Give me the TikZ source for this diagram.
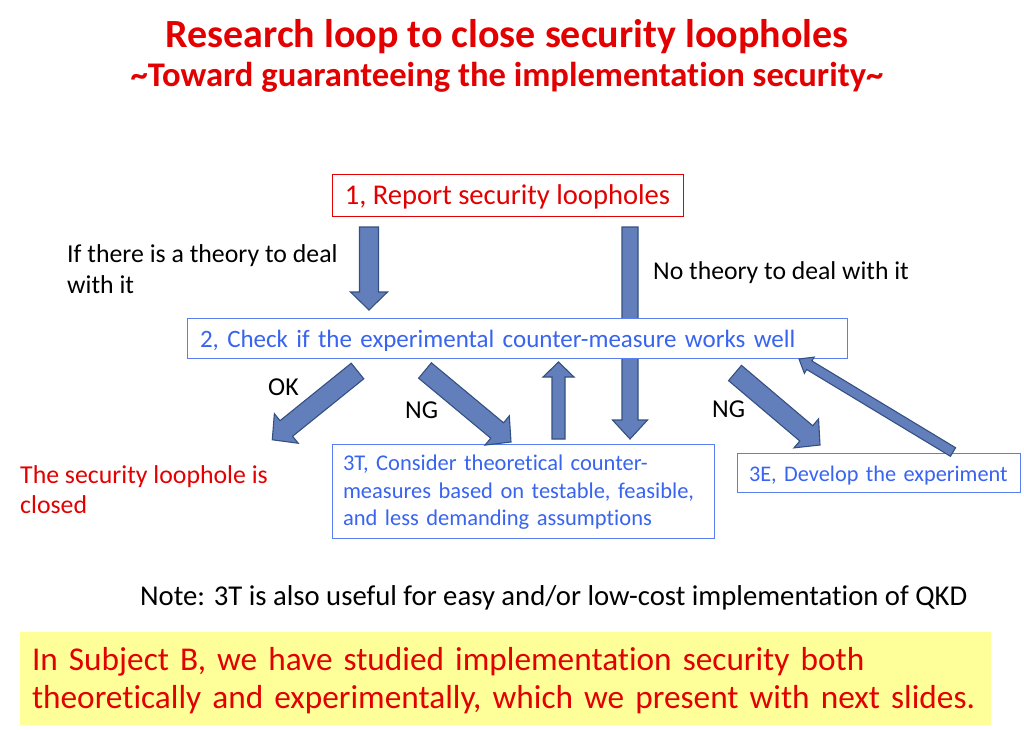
\documentclass[tikz,border=0pt]{standalone}
\usepackage{fontspec}
\setmainfont{Carlito}[Ligatures=NoCommon]
\usetikzlibrary{calc}
\definecolor{tred}{RGB}{226,0,0}
\definecolor{tblue}{RGB}{56,100,240}
\definecolor{bblue}{RGB}{90,125,240}
\definecolor{afill}{RGB}{98,127,187}
\definecolor{aedge}{RGB}{52,80,128}
\definecolor{yfill}{RGB}{255,255,153}
\tikzset{
  barrow/.style={fill=afill, draw=aedge, line width=1.1pt, line join=miter},
  redbox/.style={draw=tred, line width=0.9pt, fill=white, inner sep=0pt},
  bluebox/.style={draw=bblue, line width=0.9pt, fill=white, inner sep=0pt},
  lbl/.style={inner sep=0pt, anchor=base west}
}
\newcommand\blockarrow[5]{%
  \pgfpointdiff{\pgfpointanchor{#1}{center}}{\pgfpointanchor{#2}{center}}%
  \pgfgetlastxy\bax\bay
  \pgfmathsetmacro\balen{veclen(\bax,\bay)}%
  \pgfmathsetmacro\baang{atan2(\bay,\bax)}%
  \begin{scope}[shift={(#1)}, rotate=\baang, x=1pt, y=1pt]
    \draw[barrow] (0,#3) -- ({\balen-#5},#3) -- ({\balen-#5},#4) -- (\balen,0)
      -- ({\balen-#5},-#4) -- ({\balen-#5},-#3) -- (0,-#3) -- cycle;
  \end{scope}}
\begin{document}
\begin{tikzpicture}[x=1pt,y=-1pt]
\useasboundingbox (0,0) rectangle (1024,729);
% title
\node[inner sep=0pt, anchor=base, text=tred, font=\fontsize{40}{44}\selectfont\bfseries] (title) at (507,47) {Research loop to close security loopholes};
\node[inner sep=0pt, anchor=base, text=tred, font=\fontsize{34.6}{38}\selectfont\bfseries] (subtitle) at (507,86) {\textasciitilde Toward guaranteeing the implementation security\textasciitilde};
% arrow coordinates
\coordinate (a1t) at (369,227); \coordinate (a1h) at (369,310);
\coordinate (a2t) at (630,227); \coordinate (a2h) at (630,439);
\coordinate (a3t) at (558.5,439); \coordinate (a3h) at (558.5,362);
\coordinate (a4t) at (357.5,371); \coordinate (a4h) at (272,440);
\coordinate (a5t) at (425,370.5); \coordinate (a5h) at (511,442);
\coordinate (a6t) at (735,373); \coordinate (a6h) at (820,445);
\coordinate (a7t) at (953,452); \coordinate (a7h) at (799,359);
\blockarrow{a1t}{a1h}{9.5}{18.5}{18}
\blockarrow{a2t}{a2h}{8}{17.5}{19}
% boxes
\node[redbox, minimum width=351pt, minimum height=42pt, text height=18pt, text depth=0pt, text=tred, font=\fontsize{28.6}{32}\selectfont] (b1) at (507.5,195) {1, Report security loopholes};
\node[bluebox, minimum width=660pt, minimum height=40pt, text width=634pt, inner xsep=13pt, text height=18pt, text depth=0pt, align=left, text=tblue, font=\fontsize{25}{28}\selectfont] (b2) at (517,338) {2, Check if the experimental counter-measure works well};
\node[bluebox, minimum width=382pt, minimum height=94pt, text width=360pt, inner xsep=11pt, text height=14.4pt, text depth=55pt, align=left, text=tblue, font=\fontsize{22.5}{27.5}\selectfont] (b3t) at (523,491) {3T, Consider theoretical counter-\\measures based on testable, feasible,\\and less demanding assumptions};
\node[bluebox, minimum width=283pt, minimum height=39pt, text width=265pt, inner xsep=9pt, text height=17pt, text depth=0pt, align=left, text=tblue, font=\fontsize{22.3}{26}\selectfont] (b3e) at (878.5,472.5) {\hspace*{3pt}3E, Develop the experiment};
\blockarrow{a3t}{a3h}{6.5}{15.5}{15}
\blockarrow{a4t}{a4h}{10}{19}{18}
\blockarrow{a5t}{a5h}{10}{19}{18}
\blockarrow{a6t}{a6h}{10}{19}{18}
\blockarrow{a7t}{a7h}{5}{9.5}{12}
% labels
\node[lbl, font=\fontsize{25.8}{31}\selectfont, align=left] (l1) at (67,293) {If there is a theory to deal\\with it};
\node[lbl, font=\fontsize{25.7}{29}\selectfont] (l2) at (653,279) {No theory to deal with it};
\node[lbl, font=\fontsize{25.8}{29}\selectfont] (ok) at (268,395) {OK};
\node[lbl, font=\fontsize{25.8}{29}\selectfont] (ng1) at (405,418) {NG};
\node[lbl, font=\fontsize{25.8}{29}\selectfont] (ng2) at (712,417) {NG};
\node[lbl, text=tred, font=\fontsize{25.8}{30}\selectfont, align=left] (closed) at (20,513) {The security loophole is\\closed};
\node[lbl, font=\fontsize{28.7}{32}\selectfont] (note) at (140,605) {Note: 3T is also useful for easy and/or low-cost implementation of QKD};
% yellow box
\node[fill=yfill, inner sep=0pt, minimum width=971pt, minimum height=93pt, text width=947pt, inner xsep=12pt, text height=21.9pt, text depth=37.5pt, align=left, text=tred, font=\fontsize{33.3}{37.5}\selectfont] (yb) at (505.5,678.5) {In Subject B, we have studied implementation security both\\theoretically and experimentally, which we present with next slides.};
\end{tikzpicture}
\end{document}
